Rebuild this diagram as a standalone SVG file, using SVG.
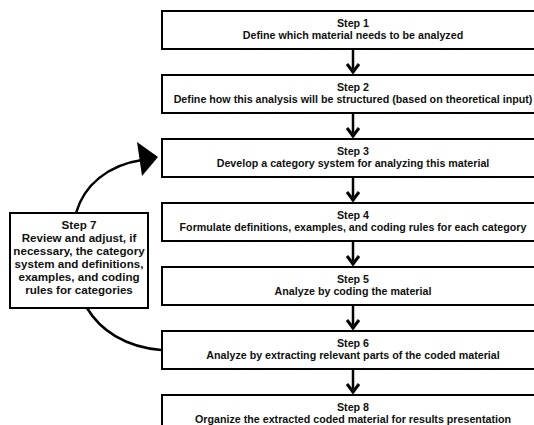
<svg xmlns="http://www.w3.org/2000/svg" width="534" height="425" viewBox="0 0 534 425">
<style>
.box{fill:#fff;stroke:#000;stroke-width:2}
.t{font-family:"Liberation Sans",Arial,sans-serif;font-weight:bold;font-size:10.7px;fill:#111;text-anchor:middle}
.t7{font-size:11.6px}
.ln{stroke:#000;stroke-width:2.5;fill:none}
.hd{stroke:#000;stroke-width:3;fill:none;stroke-linejoin:miter}
</style>
<rect width="534" height="425" fill="#fff"/>
<g id="connectors">
<line class="ln" x1="353" y1="49" x2="353" y2="73"/><polyline class="hd" points="347,64 353,72 359,64"/>
<line class="ln" x1="353" y1="113" x2="353" y2="137"/><polyline class="hd" points="347,128 353,136 359,128"/>
<line class="ln" x1="353" y1="177" x2="353" y2="201"/><polyline class="hd" points="347,192 353,200 359,192"/>
<line class="ln" x1="353" y1="241" x2="353" y2="265"/><polyline class="hd" points="347,256 353,264 359,256"/>
<line class="ln" x1="353" y1="305" x2="353" y2="329"/><polyline class="hd" points="347,320 353,328 359,320"/>
<line class="ln" x1="353" y1="369" x2="353" y2="393"/><polyline class="hd" points="347,384 353,392 359,384"/>
<path class="ln" d="M76,213 C84,185 108,165 142,160"/>
<polygon points="137,142 158,157 142,176" fill="#000"/>
<path class="ln" d="M87,308 C100,330 125,347 161,350"/>
</g>
<g id="step1"><rect class="box" x="162" y="11" width="380" height="38"/><text class="t" x="353" y="27">Step 1</text><text class="t" x="353" y="39">Define which material needs to be analyzed</text></g>
<g id="step2"><rect class="box" x="162" y="75" width="380" height="38"/><text class="t" x="353" y="91">Step 2</text><text class="t" x="353" y="103">Define how this analysis will be structured (based on theoretical input)</text></g>
<g id="step3"><rect class="box" x="162" y="139" width="380" height="38"/><text class="t" x="353" y="155">Step 3</text><text class="t" x="353" y="167">Develop a category system for analyzing this material</text></g>
<g id="step4"><rect class="box" x="162" y="203" width="380" height="38"/><text class="t" x="353" y="219">Step 4</text><text class="t" x="353" y="231">Formulate definitions, examples, and coding rules for each category</text></g>
<g id="step5"><rect class="box" x="162" y="267" width="380" height="38"/><text class="t" x="353" y="283">Step 5</text><text class="t" x="353" y="295">Analyze by coding the material</text></g>
<g id="step6"><rect class="box" x="162" y="331" width="380" height="38"/><text class="t" x="353" y="347">Step 6</text><text class="t" x="353" y="359">Analyze by extracting relevant parts of the coded material</text></g>
<g id="step8"><rect class="box" x="162" y="395" width="380" height="38"/><text class="t" x="353" y="411">Step 8</text><text class="t" x="353" y="423">Organize the extracted coded material for results presentation</text></g>
<g id="step7"><rect class="box" x="10" y="213" width="138" height="95"/>
<text class="t t7" x="79" y="229">Step 7</text>
<text class="t t7" x="79" y="242">Review and adjust, if</text>
<text class="t t7" x="79" y="255">necessary, the category</text>
<text class="t t7" x="79" y="268">system and definitions,</text>
<text class="t t7" x="79" y="281">examples, and coding</text>
<text class="t t7" x="79" y="294">rules for categories</text></g>
</svg>
